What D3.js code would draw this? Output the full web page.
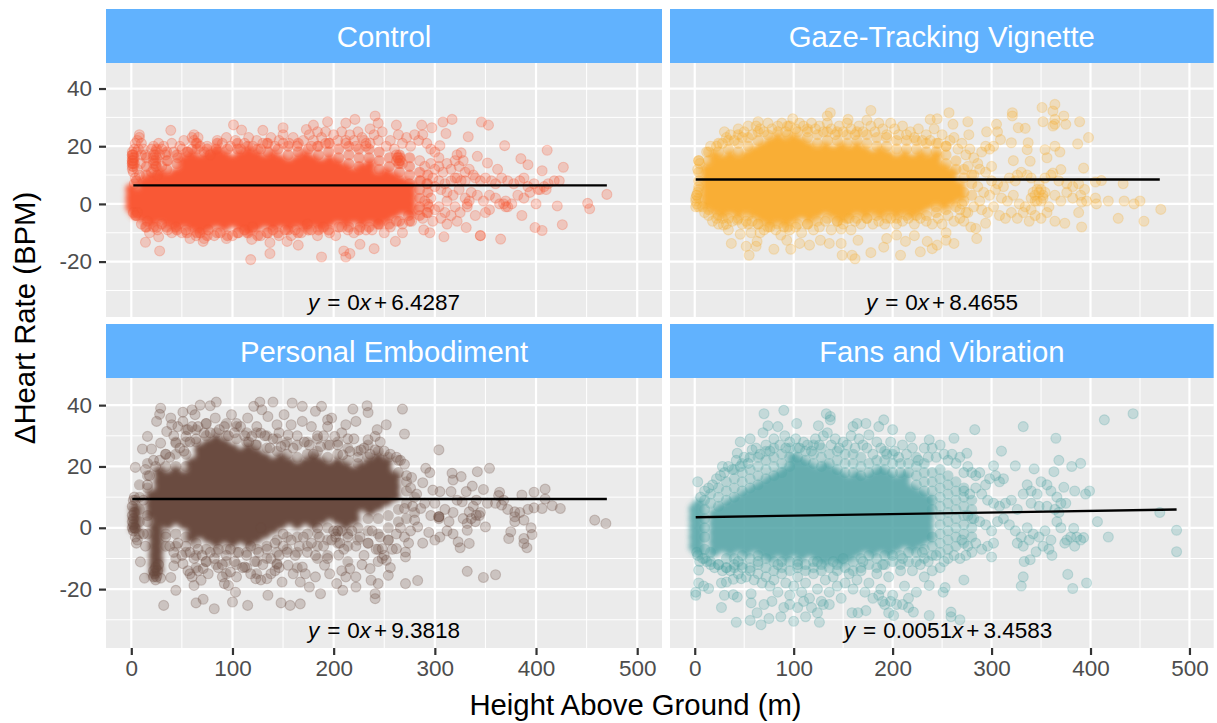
<!DOCTYPE html>
<html>
<head>
<meta charset="utf-8">
<script src="https://cdn.jsdelivr.net/npm/d3@7"></script>
<style>
  html, body { margin: 0; padding: 0; background: #fff; }
  text { font-family: "Liberation Sans", Arial, sans-serif; }
</style>
</head>
<body>
<svg width="1217" height="723"></svg>
<script>
const xTicks = [0, 100, 200, 300, 400, 500];
const xMinor = [50, 150, 250, 350, 450];
const yTicks = [-20, 0, 20, 40];
const yMinor = [-30, -10, 10, 30];
const panelNames = ["Control", "Gaze-Tracking Vignette", "Personal Embodiment", "Fans and Vibration"];
const panelColors = ["#f95835", "#f9ae35", "#6b4c3f", "#4fa3a5"];
const intercepts = [6.4287, 8.4655, 9.3818, 3.4583];
const slopes = [0, 0, 0, 0.0051];
const lineEnds = [[2, 470], [1, 470], [1, 470], [1, 487]];
const equations = ["0x+6.4287", "0x+8.4655", "0x+9.3818", "0.0051x+3.4583"];

// The middle of each cloud is thousands of overplotted points that can't be told apart,
// so it is read off as clumps, each one standing for a pile of points: [height, [delta bpm, ...]]
const controlCore = [[0,[-1,2,5]],[4,[-3,0,3]],[12,[-4.5,-1.5,1.5,4.5,7.5]],[20,[-6,-3,0,3,6,9]],[28,[-4.5,-1.5,1.5,4.5,7.5,10.5]],[36,[-6,-3,0,3,6,9]],[44,[-7.5,-4.5,-1.5,1.5,4.5,7.5,10.5]],[52,[-6,-3,0,3,6,9,12,15]],[60,[-7.5,-4.5,-1.5,1.5,4.5,7.5,10.5,13.5,16.5]],[68,[-9,-6,-3,0,3,6,9,12,15]],[76,[-7.5,-4.5,-1.5,1.5,4.5,7.5,10.5,13.5,16.5]],[84,[-6,-3,0,3,6,9,12,15,18]],[92,[-7.5,-4.5,-1.5,1.5,4.5,7.5,10.5,13.5,16.5]],[100,[-6,-3,0,3,6,9,12,15]],[108,[-7.5,-4.5,-1.5,1.5,4.5,7.5,10.5,13.5,16.5]],[116,[-9,-6,-3,0,3,6,9,12,15,18]],[124,[-7.5,-4.5,-1.5,1.5,4.5,7.5,10.5,13.5,16.5]],[132,[-6,-3,0,3,6,9,12,15]],[140,[-7.5,-4.5,-1.5,1.5,4.5,7.5,10.5,13.5,16.5]],[148,[-6,-3,0,3,6,9,12,15]],[156,[-7.5,-4.5,-1.5,1.5,4.5,7.5,10.5,13.5]],[164,[-6,-3,0,3,6,9,12,15]],[172,[-7.5,-4.5,-1.5,1.5,4.5,7.5,10.5,13.5,16.5]],[180,[-6,-3,0,3,6,9,12,15]],[188,[-7.5,-4.5,-1.5,1.5,4.5,7.5,10.5,13.5]],[196,[-6,-3,0,3,6,9,12,15]],[204,[-4.5,-1.5,1.5,4.5,7.5,10.5,13.5]],[212,[-6,-3,0,3,6,9,12]],[220,[-4.5,-1.5,1.5,4.5,7.5,10.5]],[228,[-6,-3,0,3,6,9,12]],[236,[-4.5,-1.5,1.5,4.5,7.5,10.5,13.5]],[244,[-6,-3,0,3,6,9]],[252,[-4.5,-1.5,1.5,4.5,7.5,10.5]],[260,[-3,0,3,6,9]],[268,[-1.5,1.5,4.5,7.5]],[276,[-3,0,3,6]]];
const controlMid = [[5,[-4,8]],[15,[-8,10,13,16]],[25,[-8,13,16,19]],[35,[-8,12,15,18]],[45,[-9,14,17]],[55,[-10,18]],[65,[-10,19,21]],[75,[-11,19]],[85,[-10,18,21]],[95,[-11,19]],[105,[-10,19,21]],[115,[-10,20]],[125,[-11,19]],[135,[-10,18,21]],[145,[-10,19]],[155,[-9,17,20]],[165,[-10,18,21]],[175,[-9,19]],[185,[-9,17,20]],[195,[-9,18,21]],[205,[-8,16,19]],[215,[-8,14,17,20]],[225,[-9,13,16,19]],[235,[-8,16,19]],[245,[-7,12,15,18]],[255,[-7,13,16]],[265,[-6,11,14,17]],[275,[-6,7,10,13,16]],[285,[-4,-1,2,5,8,11]],[293,[-3,0,4,7,10]]];
const gazeCore = [[12,[0,3,6,9,12]],[20,[-1.5,1.5,4.5,7.5,10.5,13.5,16.5]],[28,[-3,0,3,6,9,12,15]],[36,[-1.5,1.5,4.5,7.5,10.5,13.5,16.5]],[44,[-3,0,3,6,9,12,15]],[52,[-1.5,1.5,4.5,7.5,10.5,13.5,16.5]],[60,[-3,0,3,6,9,12,15,18]],[68,[-4.5,-1.5,1.5,4.5,7.5,10.5,13.5,16.5,19.5]],[76,[-6,-3,0,3,6,9,12,15,18,21]],[84,[-4.5,-1.5,1.5,4.5,7.5,10.5,13.5,16.5,19.5,22.5]],[92,[-6,-3,0,3,6,9,12,15,18,21]],[100,[-4.5,-1.5,1.5,4.5,7.5,10.5,13.5,16.5,19.5,22.5]],[108,[-3,0,3,6,9,12,15,18,21]],[116,[-4.5,-1.5,1.5,4.5,7.5,10.5,13.5,16.5,19.5]],[124,[-3,0,3,6,9,12,15,18]],[132,[-1.5,1.5,4.5,7.5,10.5,13.5,16.5,19.5]],[140,[-3,0,3,6,9,12,15,18]],[148,[-4.5,-1.5,1.5,4.5,7.5,10.5,13.5,16.5,19.5]],[156,[-3,0,3,6,9,12,15,18]],[164,[-1.5,1.5,4.5,7.5,10.5,13.5,16.5,19.5]],[172,[-3,0,3,6,9,12,15,18]],[180,[-1.5,1.5,4.5,7.5,10.5,13.5,16.5]],[188,[-3,0,3,6,9,12,15,18]],[196,[-1.5,1.5,4.5,7.5,10.5,13.5,16.5]],[204,[-3,0,3,6,9,12,15]],[212,[-1.5,1.5,4.5,7.5,10.5,13.5,16.5]],[220,[-3,0,3,6,9,12,15]],[228,[-1.5,1.5,4.5,7.5,10.5,13.5,16.5]],[236,[0,3,6,9,12,15]],[244,[1.5,4.5,7.5,10.5,13.5,16.5]],[252,[0,3,6,9,12]],[260,[1.5,4.5,7.5,10.5]],[268,[3,6]]];
const gazeMid = [[4,[-1,2,5,8,11,15]],[14,[-2,15,18]],[24,[-4,18,21]],[34,[-5,19,22]],[44,[-5,18,21,24]],[54,[-4,-7,20,23]],[64,[-7,22,25]],[74,[-8,24]],[84,[-7,25]],[94,[-8,24,27]],[104,[-7,25]],[114,[-7,23,26]],[124,[-6,21,24]],[134,[-5,22,25]],[144,[-6,22,25]],[154,[-5,21,24]],[164,[-5,22,25]],[174,[-5,21,24]],[184,[-4,20,23]],[194,[-5,20,23]],[204,[-5,19,22]],[214,[-4,19,22]],[224,[-4,19,22]],[234,[-4,18,21]],[244,[-3,-1,18,21]],[254,[-2,14,17,20]],[264,[-1,12,15]],[272,[1,4,9,12]],[280,[3,7,10]]];
const personalCore = [[4,[0,3,6]],[20,[4.5,7.5,10.5]],[23,[-15,-12,-9,-6,-3,0]],[26,[-13.5,-10.5,-7.5,-4.5,-1.5,1.5]],[28,[3,6,9,12,15,18]],[36,[1.5,4.5,7.5,10.5,13.5,16.5]],[44,[3,6,9,12,15,18]],[52,[1.5,4.5,7.5,10.5,13.5,16.5]],[60,[-3,0,3,6,9,12,15,18,21]],[68,[-1.5,1.5,4.5,7.5,10.5,13.5,16.5,19.5,22.5,25.5]],[76,[-3,0,3,6,9,12,15,18,21,24,27]],[84,[-4.5,-1.5,1.5,4.5,7.5,10.5,13.5,16.5,19.5,22.5,25.5,28.5]],[92,[-3,0,3,6,9,12,15,18,21,24,27]],[100,[-4.5,-1.5,1.5,4.5,7.5,10.5,13.5,16.5,19.5,22.5,25.5]],[108,[-3,0,3,6,9,12,15,18,21,24]],[116,[-4.5,-1.5,1.5,4.5,7.5,10.5,13.5,16.5,19.5,22.5,25.5]],[124,[-3,0,3,6,9,12,15,18,21,24]],[132,[-1.5,1.5,4.5,7.5,10.5,13.5,16.5,19.5,22.5]],[140,[0,3,6,9,12,15,18,21]],[148,[1.5,4.5,7.5,10.5,13.5,16.5,19.5,22.5]],[156,[3,6,9,12,15,18,21]],[164,[1.5,4.5,7.5,10.5,13.5,16.5,19.5]],[172,[3,6,9,12,15,18,21]],[180,[1.5,4.5,7.5,10.5,13.5,16.5,19.5,22.5]],[188,[3,6,9,12,15,18,21]],[196,[4.5,7.5,10.5,13.5,16.5,19.5]],[204,[3,6,9,12,15,18,21]],[212,[1.5,4.5,7.5,10.5,13.5,16.5,19.5]],[220,[3,6,9,12,15,18]],[228,[7.5,10.5,13.5,16.5,19.5]],[236,[6,9,12,15,18,21]],[244,[7.5,10.5,13.5,16.5,19.5,22.5]],[252,[9,12,15,18,21]],[260,[10.5,13.5,16.5]]];
const personalMid = [[8,[-2,2,6,10,14]],[16,[-2,2,13,17,21]],[34,[-2,-6,20,24]],[44,[-2,-6,-10,20,24,28]],[54,[-3,-8,20,24,28,32]],[64,[-5,-9,-13,28,32]],[74,[-7,-11,30,34]],[84,[-8,-12,31]],[94,[-7,-11,-15,30,34]],[104,[-8,-12,29,33]],[114,[-8,-13,28,31]],[124,[-7,-11,-15,27,31]],[134,[-6,-10,26,30]],[144,[-4,-8,-12,25,29]],[154,[-3,-7,24,28]],[164,[-3,-8,-13,23,27]],[174,[-2,-6,24,28]],[184,[-2,-6,-10,25,29]],[194,[0,-4,-9,23,27]],[204,[-1,-5,24,28]],[214,[-2,-6,-11,22,26]],[224,[0,-4,21,25]],[234,[3,-1,-5,23,27]],[244,[3,-2,-7,25]],[254,[4,0,-4,23]],[264,[6,2,18,22]],[272,[3,8,12,15]],[280,[5,10]]];
const fansCore = [[0,[-6,-3,0,3,6]],[4,[-7.5,-4.5,-1.5,1.5,4.5,7.5]],[20,[-7.5,-4.5,-1.5,1.5,4.5]],[28,[-6,-3,0,3,6]],[36,[-7.5,-4.5,-1.5,1.5,4.5,7.5]],[44,[-6,-3,0,3,6,9]],[52,[-7.5,-4.5,-1.5,1.5,4.5,7.5,10.5]],[60,[-6,-3,0,3,6,9,12]],[68,[-7.5,-4.5,-1.5,1.5,4.5,7.5,10.5,13.5]],[76,[-9,-6,-3,0,3,6,9,12,15]],[84,[-7.5,-4.5,-1.5,1.5,4.5,7.5,10.5,13.5,16.5]],[92,[-9,-6,-3,0,3,6,9,12,15,18]],[100,[-7.5,-4.5,-1.5,1.5,4.5,7.5,10.5,13.5,16.5,19.5,22.5]],[108,[-9,-6,-3,0,3,6,9,12,15,18,21]],[116,[-7.5,-4.5,-1.5,1.5,4.5,7.5,10.5,13.5,16.5,19.5]],[124,[-9,-6,-3,0,3,6,9,12,15,18]],[132,[-10.5,-7.5,-4.5,-1.5,1.5,4.5,7.5,10.5,13.5,16.5,19.5]],[140,[-9,-6,-3,0,3,6,9,12,15,18]],[148,[-10.5,-7.5,-4.5,-1.5,1.5,4.5,7.5,10.5,13.5,16.5]],[156,[-9,-6,-3,0,3,6,9,12,15]],[164,[-7.5,-4.5,-1.5,1.5,4.5,7.5,10.5,13.5,16.5]],[172,[-6,-3,0,3,6,9,12,15]],[180,[-7.5,-4.5,-1.5,1.5,4.5,7.5,10.5,13.5,16.5]],[188,[-6,-3,0,3,6,9,12,15,18]],[196,[-7.5,-4.5,-1.5,1.5,4.5,7.5,10.5,13.5,16.5]],[204,[-6,-3,0,3,6,9,12,15]],[212,[-4.5,-1.5,1.5,4.5,7.5,10.5,13.5,16.5]],[220,[-6,-3,0,3,6,9,12]],[228,[-4.5,-1.5,1.5,4.5,7.5,10.5]],[236,[-3,0,3,6,9]]];
const fansMid = [[10,[-10,-7,-3,0,3,6,9]],[16,[-11,-8,8,11]],[24,[-12,7,10,13]],[32,[-13,-10,9,12,15]],[40,[-13,-10,10,13,16,19]],[48,[-12,-9,12,15,18,21]],[56,[-13,-10,13,16,19,23]],[64,[-12,-9,14,17,20,23]],[72,[-13,-10,16,19,22,25]],[80,[-14,-11,17,20,23,26]],[88,[-13,-11,18,21,24]],[96,[-14,-11,20,23,26]],[104,[-13,-11,23,26]],[112,[-14,-12,22,25]],[120,[-13,-11,21,24,27]],[128,[-14,-12,20,23,26]],[136,[-13,21,24]],[144,[-14,-12,19,22,25]],[152,[-13,18,21,24]],[160,[-14,-11,18,21,24]],[168,[-13,-10,17,20,23]],[176,[-12,-9,18,21]],[184,[-13,-10,19,22]],[192,[-12,-9,19,22,25]],[200,[-11,-9,18,21,24]],[208,[-12,-9,18,21]],[216,[-11,-8,18,21]],[224,[-11,-8,14,17,20,23]],[232,[-10,-7,12,15,18,21]],[240,[-9,-6,-3,6,9,12,15,18]],[248,[-8,-5,-2,1,4,7,10,13,16,19]],[256,[-7,-4,-1,2,5,8,11,14,17]],[264,[-6,-3,0,3,6,9,12,15]],[272,[-5,-2,1,4,7,10,13]],[280,[-3,0,3,6,9]]];

const controlPoints = [[241,30.5],[221,29.3],[212,28],[194,28.5],[180,27.3],[173,25.8],[150,26.4],[130,25.5],[109,25.6],[101,27.4],[62,24],[39,25.5],[8,24],[262,27.3],[244,28],[287,27.3],[297,26.4],[308,28.4],[317,29.3],[346,28.4],[353,27.3],[311,24.4],[333,23.3],[369,20.2],[411,18.6],[305,20.2],[326,17.7],[342,16.5],[352,14.2],[385,15.7],[392,13.6],[427,12.7],[406,11.5],[362,12],[470,3.3],[451,0.2],[453,-1.7],[421,-0.7],[426,-7.2],[399,-8.2],[406,-9.2],[365,-12.2],[345,-11],[345,-11],[331,-8.2],[309,-11.4],[295,-10],[289,-9],[277,-6],[268,-10],[261,-13],[240,-15.5],[226,-14],[216,-17.2],[212,-18.4],[210,-16.3],[188,-18.4],[165,-14.3],[154,-13],[137,-17.2],[137,-13.4],[118,-19.3],[119,-12.3],[71,-13],[28,-16.3],[14,-13.3],[27,-11.4],
[1,18],[1,17],[1,16],[1,15],[1,14],[1,13],[1,12],[2,17],[2,15],[2,13],[3,16],[3,14],[2,11],[1,17],[1,15],[1,14],[2,16],[2,14],[3,19],[4,21],[6,22],[8,23],[10,21],[12,19],[7,19],[5,18],[10,17],[9,14],[6,12],[8,10],[4,9],[3,7],[14,17],[20,19],[22,20],[24,18],[22,16],[24,15],[22,14],[24,13],[22,12],[20,11],[22,15],[24,17],[22,17],[24,14],[26,10],[28,17],[30,19],[27,21],[32,20],[34,17],[36,15],[30,13],
[40,21],[42,18],[46,16],[48,20],[52,22],[56,18],[60,23],[62,22],[64,21],[60,19],[68,20],[72,18],[78,17],[84,19],[90,21],[94,23],[98,20],[103,22],[108,19],[112,21],[116,23],[120,20],[124,22],[128,19],[134,21],[138,23],[142,20],[146,22],[150,24],[156,21],[160,23],[164,20],[170,22],[176,24],[180,22],[184,25],[188,23],[192,25],[196,21],[200,24],[204,22],[208,25],[212,21],[216,24],[220,22],[224,25],[228,23],[232,21],[236,26],[240,24],[244,22],[248,25],[252,20],[256,22],[260,19],[264,24],[268,21],[272,23],[276,20],[280,24],[284,22],[288,24],[292,21],[296,19],[300,18],[304,16],[262,17],[264,16],[266,16],[262,15],[266,15],[264,14],[268,14],[263,16],[265,15],[236,21],[232,20],[230,22],[212,22],[222,20],[178,20],[184,20],[192,21],[150,21],[130,21],[85,22],[75,20],[66,23],[50,19],
[285,15],[290,13],[296,14],[300,12],[304,13],[308,11],[312,14],[316,12],[320,15],[322,17],[324,13],[328,15],[330,11],[334,12],[338,10],[320,9],[316,8],[322,9],[326,8],[330,8],[340,9],[345,8],[350,9],[356,8],[360,7],[366,9],[372,8],[378,7],[384,8],[388,9],[392,6],[398,7],[402,5],[408,6],[412,7],[418,8],[423,8],[300,6],[306,5],[312,4],[318,3],[324,5],[330,2],[336,4],[342,3],[348,1],[354,3],[360,2],[364,0],[370,1],[376,0],[382,3],[388,2],[394,4],[400,0],[404,5],[410,5],[290,1],[294,-1],[296,2],[300,-2],[304,-1],[310,-3],[312,1],[316,-4],[320,-1],[325,-3],[332,0],[332,-1],[334,1],[340,-4],[350,-3],[354,-2],[368,0],[370,-1],[372,-1],[386,-4],[284,-2],[288,-5],[292,-3],[298,-6],[306,-5],[312,-7],[322,-6],[286,8],[292,7],[298,9],[304,8],[310,7],
[2,-3],[4,-4],[6,-3],[10,-7],[14,-8],[18,-10],[16,-6],[22,-8],[26,-9],[30,-7],[36,-9],[40,-10],[44,-8],[50,-10],[54,-9],[58,-12],[64,-11],[68,-10],[72,-12],[76,-9],[82,-11],[88,-10],[94,-12],[100,-11],[106,-10],[112,-9],[120,-8],[128,-11],[134,-10],[140,-9],[146,-11],[152,-9],[158,-11],[162,-9],[168,-10],[174,-7],[178,-9],[184,-11],[190,-8],[196,-10],[202,-11],[208,-8],[214,-9],[220,-10],[226,-8],[232,-9],[238,-9],[244,-7],[250,-10],[256,-8],[262,-6],[268,-7],[274,-4]];

const gazePoints = [[364,34.5],[351,33.4],[362,32.2],[321,31.6],[321,30.5],[373,30.5],[364,29.3],[352,28.5],[364,27.6],[375,27.6],[389,28.5],[362,27],[327,26.4],[334,26.2],[305,27.6],[276,28.5],[306,25],[295,25],[277,24],[257,31.6],[261,27.6],[245,29.5],[238,29.3],[178,32.4],[137,31.6],[134,30.5],[155,29.3],[99,29.5],[64,28.5],[398,23],[387,20.8],[364,20],[369,18],[354,18.8],[337,21.2],[336,18.8],[320,21.2],[309,22.3],[356,16],[339,14.8],[322,15],[393,12.4],[370,11.9],[362,10.7],[411,8.1],[405,7.6],[433,7],[471,-1.9],[454,-6],[428,-5],[391,-8],[374,-6.7],[364,-6],[450,1],[444,0],[434,1],[418,1],[406,0],[391,.6],[405,2],[388,-3],[294,-6.7],[279,-8],[285,-12],[284,-8.5],
[262,-13.7],[254,-10],[254,-12.6],[245,-14.3],[240,-15.5],[235,-13],[228,-16.6],[222,-11],[213,-13],[208,-17.8],[204,-10.8],[194,-12],[191,-15],[178,-16.9],[162,-19],[159,-17.8],[149,-17.8],[165,-12.6],[158,-9],[148,-8.7],[148,-13.7],[136,-13.7],[127,-12.6],[116,-14.3],[106,-13.7],[97,-15.7],[93,-12.6],[80,-15.7],[87,-10.8],[66,-10],[57,-10],[63,-13],[62,-14.7],[55,-17.8],[52,-14.7],[37,-13.7],[46,-10.5],[34,-9],[29,-7.3],[43,-5.6],[22,-5],
[1,1],[1,2],[2,0],[1,-1],[2,3],[3,12],[4,15],[5,14],[3,4],[4,6],[2,3],[8,-1],[10,-3],[14,-4],[18,-6],[24,-7],[28,-5],[32,-7],[38,-6],[48,-7],[52,-6],[58,-6],[64,-7],[70,-9],[76,-8],[82,-9],[90,-8],[96,-9],[102,-8],[108,-10],[114,-7],[120,-9],[126,-8],[132,-6],[138,-9],[144,-6],[150,-7],[156,-5],[162,-6],[168,-7],[174,-5],[180,-7],[186,-6],[192,-7],[198,-5],[204,-7],[210,-6],[216,-5],[222,-7],[228,-5],[234,-6],[240,-7],[246,-5],[250,-7],[256,-4],[262,-6],[268,-2],[274,-3],
[12,18],[16,20],[22,20],[28,21],[32,23],[30,25],[36,24],[40,22],[44,26],[50,25],[54,27],[48,23],[58,24],[62,27],[66,26],[70,25],[74,28],[78,26],[84,27],[88,28],[92,25],[96,27],[102,26],[106,28],[110,27],[114,25],[118,28],[122,26],[126,27],[130,25],[134,28],[138,26],[142,24],[146,27],[150,25],[154,28],[158,26],[162,24],[166,27],[170,25],[174,29],[178,27],[182,25],[186,28],[190,26],[194,24],[198,28],[202,26],[206,24],[210,27],[214,24],[218,25],[222,23],[226,26],[230,22],[234,24],[238,22],[242,26],[246,21],[250,24],[254,20],[258,22],[262,23],[266,19],[270,21],[274,17],[278,19],[282,16],[286,14],[290,18],[294,20],[298,19],[302,20],[288,12],[294,11],[300,13],[276,13],[282,10],
[326,10],[330,11],[336,10],[318,9],[324,8],[340,9],[348,7],[354,9],[360,10],[368,8],[376,7],[382,6],[388,7],[394,5],[300,8],[306,7],[312,6],[286,6],[292,4],[298,3],[304,5],[310,2],[316,1],[322,3],[328,0],[334,-1],[340,-2],[346,1],[352,2],[358,-1],[364,3],[370,1],[376,4],[382,2],[390,3],[396,1],[340,2],[344,3],[348,4],[352,3],[342,4],[346,5],[350,5],[354,4],[344,1],[350,1],[290,-2],[296,-3],[302,-1],[308,-4],[314,-5],[320,-3],[326,-5],[332,-3],[338,-6],[344,-4],[350,-5],[356,-3],[270,0],[276,-3],[282,-1],[288,1],[268,-5],[272,-6]];

const personalPoints = [[84,41],[78,39.8],[68,40],[60,38.5],[51,37.7],[29,39],[28,37],[25,34.7],[39,35.8],[51,34.7],[40,33.6],[35,31.4],[16,29.8],[11,25.7],[20,25.7],[4,19.7],[29,27.6],[44,27.6],[54,29.8],[63,36.9],[72,30.9],[83,35.8],[87,32],[99,36.9],[108,33],[115,35.8],[121,39.6],[127,41],[140,41],[129,38.5],[135,36.3],[144,33.6],[151,36.9],[159,40.7],[169,39.6],[182,38],[188,39.6],[169,34.7],[178,33],[194,35.2],[212,33.6],[222,34.7],[219,38.7],[233,39.8],[234,37.6],[268,38.7],[252,33.6],[270,30.6],[243,32],[241,29.8],[234,28.7],[201,29.8],[171,28],[187,26.5],[216,24.9],[227,25.4],[209,23.8],[241,25.4],[155,30.3],[158,33.6],[128,30.9],[119,29.8],[148,26.5],[137,26],[123,27],[198,35.8],[194,33],
[304,25.4],[270,20.7],[291,19.4],[295,18],[277,16.4],[288,14.7],[317,17.8],[326,16.7],[318,15.6],[342,18.3],[354,19.4],[337,13.6],[348,12.5],[331,11.8],[316,11.8],[305,11.8],[298,12.3],[364,11.6],[386,10.7],[398,11.6],[409,12.6],[409,9.4],[424,6.3],[416,7.2],[406,6.3],[398,6.5],[458,2.5],[469,1.4],[395,0],[396,-2.2],[388,-3.5],[388,-5.1],[391,-6.5],[373,-3.5],[375,-1.3],[379,5.2],[379,3.6],[379,2],[388,2.5],[366,7.4],[363,10.5],[350,.3],[341,4.1],[334,5.2],[332,1.4],[332,-.8],[334,-5.1],[323,-4.6],[325,-6.5],[305,-3],[300,-4],[304,3.6],[304,3.6],[304,3.6],[304,3],[314,2],[294,-1.5],[288,-5],[332,-14.2],[348,-16.2],[360,-15.3],[283,-17.2],[271,-18.2],[271,-7.9],[271,-9.5],[283,.3],[280,2.5],[286,6.3],[270,6.3],[341,9],[327,8.5],
[32,-25.3],[64,-24.5],[71,-23.3],[82,-26.4],[100,-24.2],[103,-21],[115,-25.3],[135,-22],[148,-24.5],[157,-25.3],[167,-24.8],[187,-21.5],[241,-23.1],[241,-21.5],[222,-19.3],[209,-20.4],[44,-20.4],[13,-16.4],[9,-11.1],[29,-16.4],[39,-16.2],[42,-12.4],[51,-11.7],[58,-15],[71,-13.3],[69,-17.1],[62,-18.8],[92,-18.2],[96,-18.8],[98,-14.4],[112,-12.8],[123,-16.6],[134,-16.6],[144,-11.7],[149,-17.7],[155,-12.2],[169,-12.8],[167,-17.7],[176,-19.3],[191,-12.2],[203,-18.2],[205,-8.9],[216,-13.3],[236,-13.3],[237,-17.1],[244,-18.2],[254,-15.5],[252,-10.6],[248,-6.8],[262,-6.8],[6,-4],[4,-.2],
[1,2],[2,3],[1,4],[2,1],[3,0],[1,7],[2,9],[3,10],[4,9],[2,-1],[1,0],[3,5],[4,-3],[5,-5],[12,-2],[14,-6],[16,4],[12,9],[16,14],[18,17],[14,19],[22,22],[24,20],[28,22],[34,24],[38,23],[42,30],[46,33],[48,26],[52,25],[56,32],[60,33],[58,28],[64,29],[66,33],[74,34],[78,31],[92,33],[96,30],[102,31],[104,34],[112,30],[116,28],[124,33],[132,30],[140,29],[146,31],[152,27],[160,26],[164,30],[176,27],[180,24],[184,30],[190,30],[196,27],[204,27],[208,31],[214,29],[220,29],[224,23],[230,26],[236,24],[246,28],[250,25],[256,24],[262,23],[266,22],[272,17],[276,13],[282,11],
[34,-3],[38,-6],[42,-8],[46,-5],[50,-9],[54,-6],[58,-8],[62,-10],[66,-7],[70,-9],[74,-11],[78,-8],[82,-10],[86,-7],[90,-12],[94,-9],[98,-7],[102,-11],[106,-8],[110,-13],[114,-9],[118,-6],[122,-11],[126,-8],[130,-12],[134,-7],[138,-10],[142,-5],[146,-9],[150,-6],[154,-8],[158,-4],[162,-9],[166,-6],[170,-3],[174,-8],[178,-5],[182,-9],[186,-3],[190,-6],[194,-10],[198,-4],[202,-2],[206,-5],[210,-7],[214,-3],[218,-1],[222,-6],[226,-3],[230,-9],[234,-5],[238,-1],[242,-7],[246,-3],[250,-9],[254,-4],[258,-7],[262,-2],[266,0],[270,-3],[274,-5],[276,-1],[278,7],[200,-1],[204,-1],[208,-1],[202,-3],[184,0],[150,-2],[128,0],[56,-14],[60,-16],[66,-14],[76,-15],[86,-13],[90,-16],[104,-16],[118,-15],[128,-17],[138,-15],[142,-14],[146,-13],[160,-15],[172,-15],[182,-16],[196,-15],[208,-14],[212,-16],[222,-16],[228,-12],[244,-11],[256,-13],[248,-10],
[23,-15],[24,-13],[25,-16],[26,-14],[22,-16],[24,-17],[22,-14],[27,-12],[290,8],[296,4],[300,8],[310,6],[318,5],[322,9],[328,3],[338,7],[345,5],[352,8],[360,8],[368,9],[372,6],[384,5],[392,6],[340,2],[344,4],[336,3],[312,-1],[318,-2]];

const fansPoints = [[90,38.3],[70,37.2],[133,37.2],[137,36.3],[137,35.2],[103,34],[125,33.3],[74,33.3],[84,33],[91,30],[69,31],[56,29],[46,28],[58,25.4],[43,24.3],[164,34],[173,34],[191,35.2],[186,33],[200,32],[160,33],[176,30.3],[218,29.6],[237,28.7],[262,29.2],[283,32],[332,33],[365,29.2],[414,35.2],[443,37.2],[310,25],[275,24.3],[368,22],[390,21],[381,20],[363,18.3],[324,20.2],[302,20.2],[343,19.2],[399,12],[395,11],[384,12],[373,13.2],[375,8],[407,2],[470,5],[487,-0.8],[487,-7.8],[418,-3],[393,-3.2],[383,-.2],[377,-15.2],[396,-18],[382,-19.8],[332,-16],[330,-19],[333,-11],[339,-10.4],[361,-9],[345,-7.8],[300,-9.5],[272,-17],[253,-19.5],[251,-21],[237,-18.8],[268,-30],[259,-27.5],[259,-29],[237,-28.6],[221,-27.5],[201,-28.6],[196,-27.7],[173,-27],[165,-27.7],[159,-27.7],[126,-30.8],[112,-29],[124,-27.7],[100,-30.5],[87,-29],[67,-31.6],[56,-30.2],[42,-30.8],[75,-29.6],[63,-27.7],[27,-26],[1,-22],[1,-21],[4,-18],[14,-19.8],[9,-19],[4,-13.8],[27,-18],[32,-17.7],[39,-16.8],[47,-16.6],[30,-22],[39,-21.8],[43,-22.6],[57,-21.5],[57,-24.5],
[3,15],[6,10],[10,12],[14,13],[18,14],[22,16],[26,17],[30,18],[34,20],[38,19],[28,20],[42,22],[46,20],[50,23],[54,21],[62,26],[66,24],[72,27],[76,25],[80,29],[86,27],[92,26],[96,28],[102,29],[106,26],[110,28],[114,27],[118,25],[122,29],[126,27],[130,30],[134,31],[138,27],[142,29],[146,26],[150,28],[154,27],[158,30],[162,26],[166,29],[170,27],[174,26],[180,24],[184,28],[188,26],[194,24],[198,28],[202,25],[206,23],[210,27],[214,24],[220,26],[226,22],[232,26],[236,23],[240,26],[244,23],[248,27],[252,24],[256,22],[260,24],[264,21],[268,23],[272,18],[276,20],[280,18],[284,17],[288,18],[294,14],[298,16],[304,17],[308,15],[312,16],
[272,12],[278,11],[284,13],[290,11],[296,9],[302,8],[308,7],[314,8],[320,9],[326,6],[332,11],[336,14],[340,12],[346,11],[350,15],[356,14],[360,12],[366,10],[370,8],[340,8],[348,7],[356,7],[364,6],[368,5],[276,4],[282,3],[288,2],[294,1],[300,-1],[306,2],[312,3],[318,1],[324,-1],[330,-3],[336,0],[342,-2],[348,-3],[354,-1],[360,-4],[366,2],[370,0],[326,-5],[332,-6],[338,-4],[352,-6],[358,-7],[374,-5],[380,-3],[386,-3],[384,-6],[390,-4],[376,-4],[270,-4],[276,-6],[284,-5],[290,-7],[296,-6],[302,-5],[262,-9],[268,-10],[274,-9],[280,-8],
[2,-8],[3,-9],[5,-11],[8,-10],[12,-11],[16,-12],[20,-13],[24,-12],[28,-14],[32,-13],[36,-14],[40,-12],[44,-15],[48,-13],[52,-16],[56,-14],[60,-17],[64,-15],[68,-18],[72,-16],[76,-19],[80,-17],[84,-21],[88,-15],[92,-18],[96,-22],[100,-19],[104,-16],[108,-21],[112,-18],[116,-23],[120,-15],[124,-20],[128,-24],[132,-17],[136,-21],[140,-16],[144,-19],[148,-23],[152,-18],[156,-15],[160,-20],[164,-17],[168,-14],[172,-21],[176,-18],[180,-23],[184,-15],[188,-20],[192,-25],[196,-16],[200,-22],[204,-25],[208,-14],[212,-19],[216,-23],[220,-14],[224,-21],[228,-12],[232,-16],[236,-11],[240,-14],[244,-9],[248,-13],[252,-11],[256,-10],[70,-25],[78,-24],[90,-26],[96,-25],[104,-26],[110,-24],[118,-26],[130,-25],[136,-25],[190,-24],[186,-22],[198,-24],[210,-25],[216,-26],[140,-11],[150,-10],[170,-11],[190,-12],[210,-10],[230,-8],[44,-11],[64,-11],[84,-12],[104,-12],[124,-11]];

const panelPoints = [controlPoints, gazePoints, personalPoints, fansPoints];
const panelCore = [controlCore, gazeCore, personalCore, fansCore];
const panelMid = [controlMid, gazeMid, personalMid, fansMid];
const coreOpacity = [1, 1, 1, 0.85];
const midOpacity = [0.45, 0.4, 0.3, 0.33];

// panel boxes in pixels, the two columns and two rows are not quite the same size
const columns = [[106, 662], [670, 1213.7]];
const rows = [[63, 317, 9, 7], [378, 648, 324, 10]];
const xDomain = [-25, 524.5];
const yDomain = [-39.2, 48.85];

const expand = cols => cols.flatMap(c => c[1].map(v => [c[0], v]));
const svg = d3.select("svg");

svg.append("defs").append("filter")
    .attr("id", "soft")
    .attr("x", "-5%").attr("y", "-10%").attr("width", "110%").attr("height", "120%")
    .append("feGaussianBlur").attr("stdDeviation", 2.5);

panelNames.forEach((name, i) => {
    const col = columns[i % 2];
    const row = rows[Math.floor(i / 2)];
    const x = d3.scaleLinear().domain(xDomain).range(col);
    const y = d3.scaleLinear().domain(yDomain).range([row[1], row[0]]);
    const color = panelColors[i];
    const g = svg.append("g");

    g.append("rect")
        .attr("x", col[0]).attr("y", row[2])
        .attr("width", col[1] - col[0]).attr("height", row[0] - row[2])
        .attr("fill", "#61b2fe");
    g.append("text")
        .attr("x", (col[0] + col[1]) / 2).attr("y", row[2] + 37.5)
        .attr("text-anchor", "middle").attr("fill", "#fff").attr("font-size", 29.3)
        .text(name);

    g.append("rect")
        .attr("x", col[0]).attr("y", row[0])
        .attr("width", col[1] - col[0]).attr("height", row[1] - row[0])
        .attr("fill", "#ebebeb");

    const grid = [[xMinor, 1], [xTicks, 2.2]];
    grid.forEach(d => {
        g.selectAll(null).data(d[0]).enter().append("line")
            .attr("x1", v => x(v)).attr("x2", v => x(v))
            .attr("y1", row[0]).attr("y2", row[1])
            .attr("stroke", "#fff").attr("stroke-width", d[1]);
    });
    const gridY = [[yMinor, 1], [yTicks, 2.2]];
    gridY.forEach(d => {
        g.selectAll(null).data(d[0]).enter().append("line")
            .attr("x1", col[0]).attr("x2", col[1])
            .attr("y1", v => y(v)).attr("y2", v => y(v))
            .attr("stroke", "#fff").attr("stroke-width", d[1]);
    });

    g.selectAll(".mid")
        .data(expand(panelMid[i]))
        .enter()
        .append("circle")
        .attr("class", "mid")
        .attr("cx", d => x(d[0]))
        .attr("cy", d => y(d[1]))
        .attr("r", 5.5)
        .attr("fill", color).attr("fill-opacity", midOpacity[i]);

    // the clumps go in one group so they merge into a flat mass, blurred a little so its edge fades out
    g.append("g").attr("opacity", coreOpacity[i]).attr("filter", "url(#soft)")
        .selectAll(".core")
        .data(expand(panelCore[i]))
        .enter()
        .append("circle")
        .attr("class", "core")
        .attr("cx", d => x(d[0]))
        .attr("cy", d => y(d[1]))
        .attr("r", 6)
        .attr("fill", color);

    g.selectAll(".point")
        .data(panelPoints[i])
        .enter()
        .append("circle")
        .attr("class", "point")
        .attr("cx", d => x(d[0]))
        .attr("cy", d => y(d[1]))
        .attr("r", 5)
        .attr("fill", color).attr("fill-opacity", 0.25)
        .attr("stroke", color).attr("stroke-opacity", 0.25).attr("stroke-width", 1.1);

    g.append("line")
        .attr("x1", x(lineEnds[i][0])).attr("x2", x(lineEnds[i][1]))
        .attr("y1", y(intercepts[i] + slopes[i] * lineEnds[i][0]))
        .attr("y2", y(intercepts[i] + slopes[i] * lineEnds[i][1]))
        .attr("stroke", "#000").attr("stroke-width", 2.4);

    const eq = g.append("text")
        .attr("x", i % 2 ? (i == 1 ? 942 : 948) : 384)
        .attr("y", row[1] - row[3])
        .attr("text-anchor", "middle").attr("font-size", 22.5).attr("fill", "#000");
    const parts = equations[i].split("x");
    eq.append("tspan").attr("font-style", "italic").text("y");
    eq.append("tspan").attr("dx", 8).text("=");
    eq.append("tspan").attr("dx", 7).text(parts[0]);
    eq.append("tspan").attr("font-style", "italic").text("x");
    eq.append("tspan").attr("dx", 3).text("+");
    eq.append("tspan").attr("dx", 4).text(parts[1].slice(1));

    // only the left column has y labels and only the bottom row has x labels
    if (i >= 2) {
        const xAxis = d3.axisBottom(x).tickValues(xTicks).tickSize(7).tickPadding(5);
        const ax = g.append("g").attr("transform", `translate(0,${row[1]})`).call(xAxis);
        ax.select(".domain").remove();
        ax.selectAll("line").attr("stroke", "#333").attr("stroke-width", 2.2);
        ax.selectAll("text").attr("fill", "#4d4d4d").attr("font-size", 22.5)
            .attr("font-family", '"Liberation Sans", Arial, sans-serif');
    }
    if (i % 2 == 0) {
        const yAxis = d3.axisLeft(y).tickValues(yTicks).tickSize(7).tickPadding(7)
            .tickFormat(v => String(v));
        const ay = g.append("g").attr("transform", `translate(${col[0]},0)`).call(yAxis);
        ay.select(".domain").remove();
        ay.selectAll("line").attr("stroke", "#333").attr("stroke-width", 2.2);
        ay.selectAll("text").attr("fill", "#4d4d4d").attr("font-size", 22.5)
            .attr("font-family", '"Liberation Sans", Arial, sans-serif');
    }
});

svg.append("text")
    .attr("x", 635.5).attr("y", 715)
    .attr("text-anchor", "middle").attr("font-size", 29.3).attr("fill", "#000")
    .text("Height Above Ground (m)");

svg.append("text")
    .attr("transform", "translate(35,318) rotate(-90)")
    .attr("text-anchor", "middle").attr("font-size", 29.3).attr("fill", "#000")
    .text("ΔHeart Rate (BPM)");
</script>
</body>
</html>
